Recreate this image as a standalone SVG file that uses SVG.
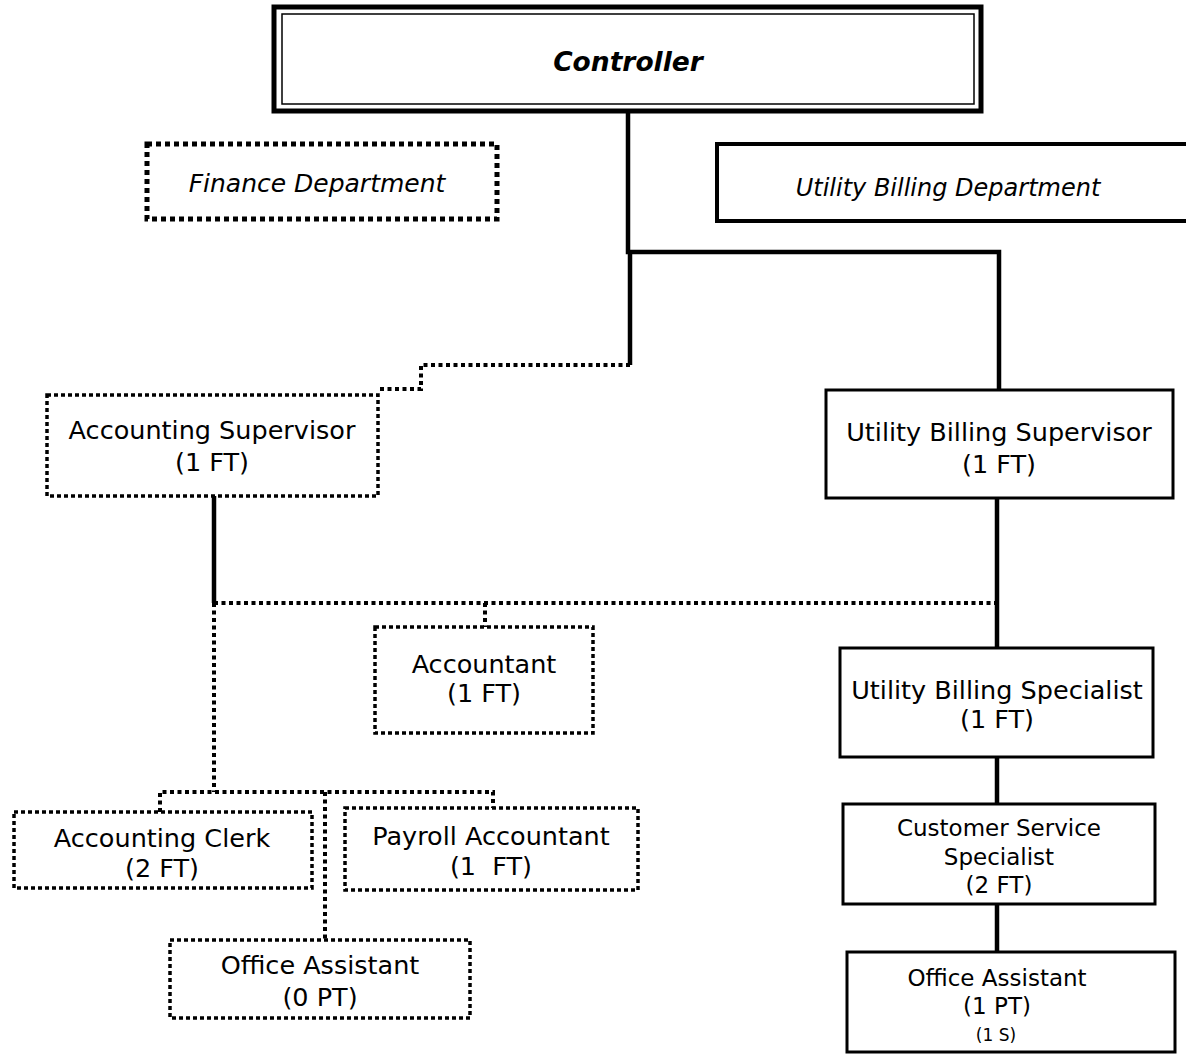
<svg xmlns="http://www.w3.org/2000/svg" width="1186" height="1055" viewBox="0 0 1186 1055">
<style>
text{font-family:"DejaVu Sans","Verdana",sans-serif;fill:#000;text-anchor:middle}
.t{font-size:25.5px}
.s{font-size:23px}
.xs{font-size:17px}
.solid{fill:#fff;stroke:#000;stroke-width:3}
.dot{fill:#fff;stroke:#000;stroke-width:3.5;stroke-dasharray:4 3}
.ln{fill:none;stroke:#000;stroke-width:4.5}
.dl{fill:none;stroke:#000;stroke-width:4;stroke-dasharray:4 3.5}
</style>
<rect width="1186" height="1055" fill="#fff"/>
<g id="connectors">
<path class="ln" d="M628,112 V252 H999 V390"/>
<path class="ln" d="M630,252 V365"/>
<path class="dl" d="M630,365 H421 V389 H378"/>
<path class="ln" d="M214,496 V603"/>
<path class="dl" d="M214,603 H997"/>
<path class="dl" d="M485,603 V627"/>
<path class="ln" d="M997,498 V648"/>
<path class="dl" d="M214,603 V792"/>
<path class="dl" d="M160,812 V792 H493 V808"/>
<path class="dl" d="M325,792 V940"/>
<path class="ln" d="M997,757 V804"/>
<path class="ln" d="M997,904 V952"/>
</g>
<g id="controller">
<rect x="274" y="7" width="707" height="104" fill="#fff" stroke="#000" stroke-width="5"/>
<rect x="282" y="14" width="692" height="90" fill="none" stroke="#000" stroke-width="1.5"/>
<text x="628" y="71" font-size="26.5" font-weight="bold" font-style="italic">Controller</text>
</g>
<g id="finance-department">
<rect x="147" y="144" width="350" height="75" fill="#fff" stroke="#000" stroke-width="5" stroke-dasharray="5 4"/>
<text x="317" y="192" font-size="25" font-style="italic">Finance Department</text>
</g>
<g id="utility-billing-department">
<rect x="717" y="144" width="475" height="77" fill="#fff" stroke="#000" stroke-width="4"/>
<text x="948" y="196" font-size="24" font-style="italic">Utility Billing Department</text>
</g>
<g id="accounting-supervisor">
<rect class="dot" x="47" y="395" width="331" height="101"/>
<text class="t" x="212" y="439">Accounting Supervisor</text>
<text class="t" x="212" y="471">(1 FT)</text>
</g>
<g id="utility-billing-supervisor">
<rect class="solid" x="826" y="390" width="347" height="108"/>
<text class="t" x="999" y="441">Utility Billing Supervisor</text>
<text class="t" x="999" y="473">(1 FT)</text>
</g>
<g id="accountant">
<rect class="dot" x="375" y="627" width="218" height="106"/>
<text class="t" x="484" y="673">Accountant</text>
<text class="t" x="484" y="702">(1 FT)</text>
</g>
<g id="utility-billing-specialist">
<rect class="solid" x="840" y="648" width="313" height="109"/>
<text class="t" x="997" y="699">Utility Billing Specialist</text>
<text class="t" x="997" y="728">(1 FT)</text>
</g>
<g id="accounting-clerk">
<rect class="dot" x="14" y="812" width="298" height="76"/>
<text class="t" x="162" y="847">Accounting Clerk</text>
<text class="t" x="162" y="877">(2 FT)</text>
</g>
<g id="payroll-accountant">
<rect class="dot" x="345" y="808" width="293" height="82"/>
<text class="t" x="491" y="845" xml:space="preserve">Payroll Accountant</text>
<text class="t" x="491" y="875" xml:space="preserve">(1  FT)</text>
</g>
<g id="office-assistant-finance">
<rect class="dot" x="170" y="940" width="300" height="78"/>
<text class="t" x="320" y="974">Office Assistant</text>
<text class="t" x="320" y="1006">(0 PT)</text>
</g>
<g id="customer-service-specialist">
<rect class="solid" x="843" y="804" width="312" height="100"/>
<text class="s" x="999" y="836">Customer Service</text>
<text class="s" x="999" y="865">Specialist</text>
<text class="s" x="999" y="893">(2 FT)</text>
</g>
<g id="office-assistant-billing">
<rect class="solid" x="847" y="952" width="328" height="100"/>
<text class="s" x="997" y="986">Office Assistant</text>
<text class="s" x="997" y="1014">(1 PT)</text>
<text class="xs" x="996" y="1041">(1 S)</text>
</g>
</svg>
